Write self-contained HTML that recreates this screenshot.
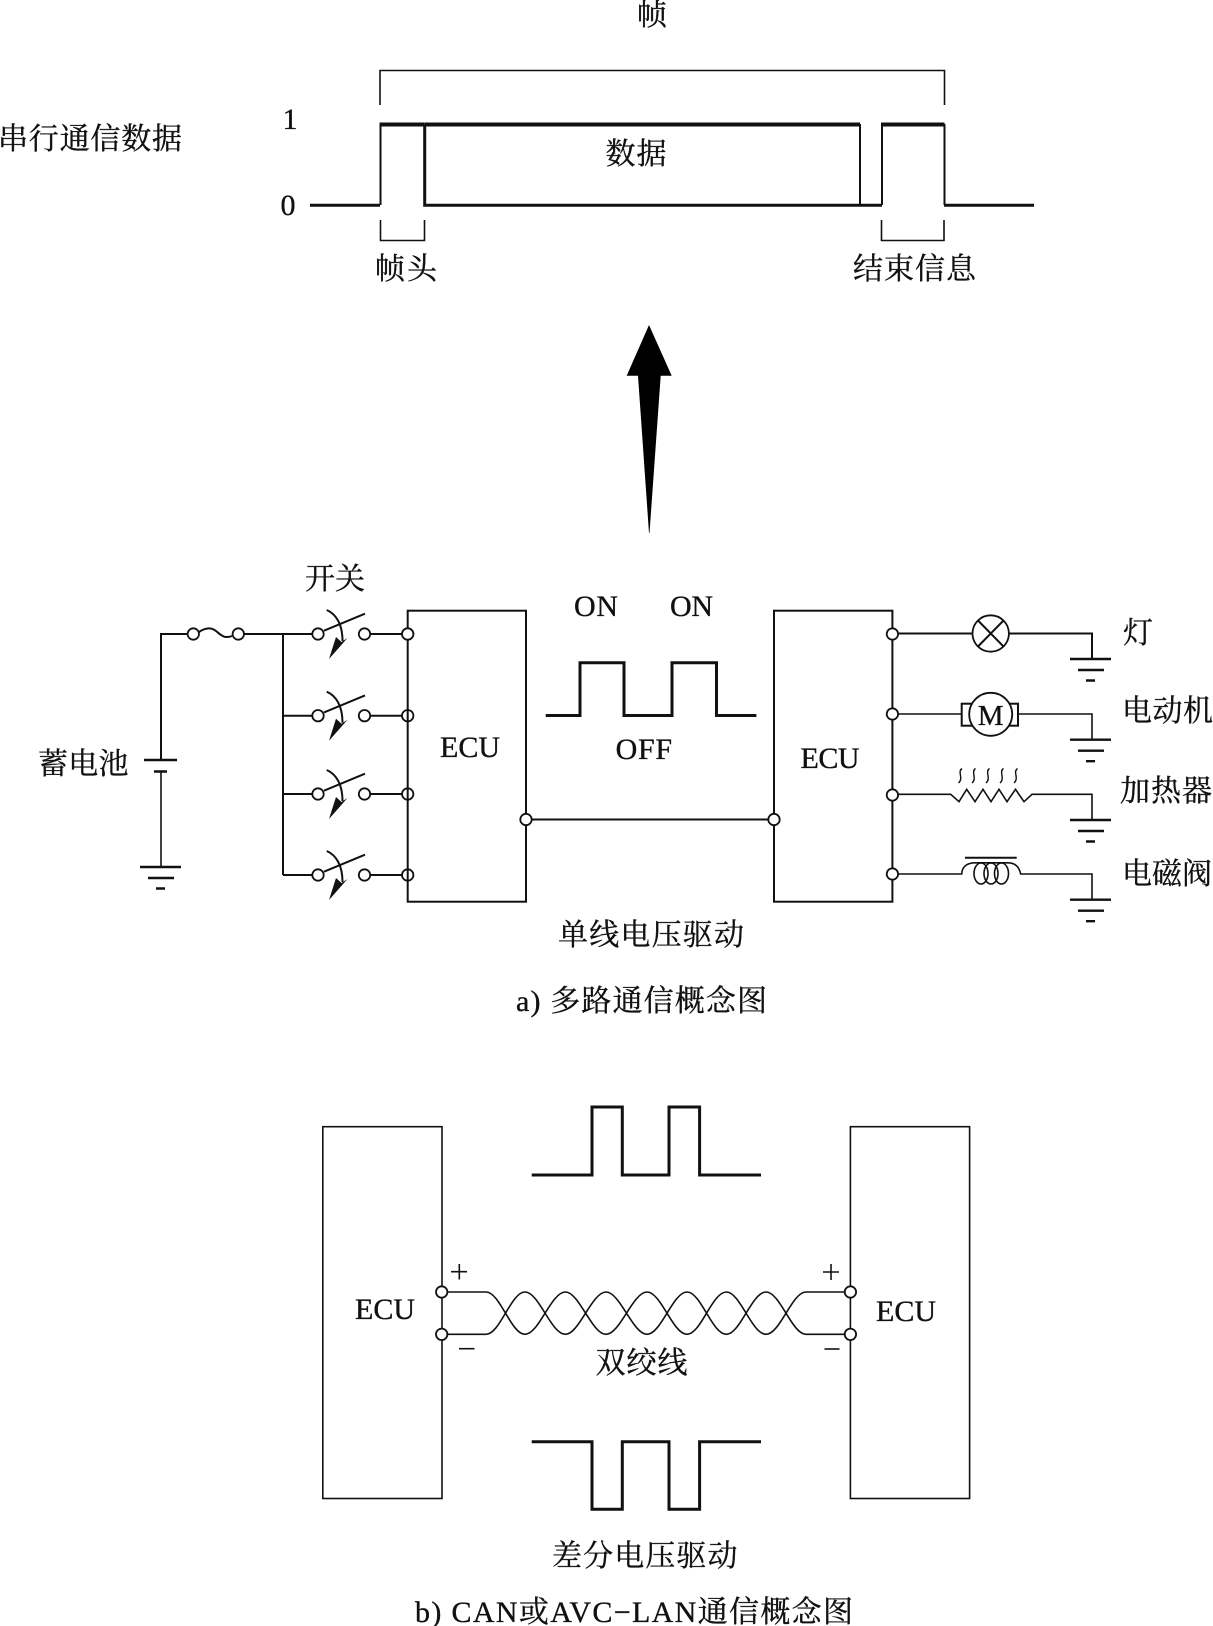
<!DOCTYPE html>
<html lang="zh">
<head>
<meta charset="utf-8">
<title>多路通信概念图</title>
<style>
html,body{margin:0;padding:0;background:#fff;width:1213px;height:1626px;overflow:hidden}
svg{display:block}
text{font-family:"Liberation Serif","Noto Serif CJK SC",serif;font-size:30px;fill:#111;stroke:#111;stroke-width:.35}
.t{fill:none;stroke:#111;stroke-width:1.6}
.m{fill:none;stroke:#111;stroke-width:2}
.k{fill:none;stroke:#111;stroke-width:3;stroke-linejoin:miter}
.c{fill:#fff;stroke:#111;stroke-width:1.8}
</style>
</head>
<body>
<svg xmlns="http://www.w3.org/2000/svg" width="1213" height="1626" viewBox="0 0 1213 1626">
<rect width="1213" height="1626" fill="#fff"/>
<defs>
  <g id="sw">
    <path class="m" d="M283 0H312M370 0H408"/>
    <circle class="c" cx="318" cy="0" r="5.7"/>
    <circle class="c" cx="364.5" cy="0" r="5.7"/>
    <circle class="c" cx="407.7" cy="0" r="5.7"/>
    <path class="m" d="M324 -3.3L365 -20.3"/>
    <path class="m" d="M326.7 -24C336 -20 342.5 -10 342.5 7"/>
    <polygon fill="#111" points="329,25 336,3 341.5,8 347.5,4"/>
  </g>
  <g id="gnd">
    <path stroke="#111" stroke-width="2.4" fill="none" d="M-21 0H20M-13 11H13M-5 21.5H4"/>
  </g>
</defs>

<!-- Top frame -->
<text x="652" y="25" text-anchor="middle">帧</text>
<path class="t" d="M380 105V70.5H944.5V105"/>
<text x="-2" y="149" textLength="184">串行通信数据</text>
<text x="290" y="129" text-anchor="middle">1</text>
<text x="288" y="215" text-anchor="middle">0</text>
<path class="k" d="M310 205.3H380"/>
<path class="m" d="M380.5 205V124"/>
<path class="k" d="M379.5 124.5H424.5" style="stroke-width:4"/>
<path class="k" d="M424.7 124V205.3H860"/>
<path class="k" d="M424.7 124.5H860" style="stroke-width:4"/>
<path class="m" d="M860 124V205"/>
<path class="k" d="M860 205.3H882"/>
<path class="m" d="M882 205V124"/>
<path class="k" d="M881 124.5H944.5" style="stroke-width:4"/>
<path class="m" d="M944.5 124V205"/>
<path class="k" d="M944 205.3H1034"/>
<text x="636" y="164" text-anchor="middle" textLength="61">数据</text>
<path class="t" d="M380.5 220V240.5H424.5V220"/>
<path class="t" d="M881.5 220V240.5H944V220"/>
<text x="375" y="279" textLength="62">帧头</text>
<text x="853" y="279" textLength="123">结束信息</text>

<!-- Big arrow -->
<polygon fill="#000" points="649,325 671.7,375.7 660.7,375.7 649.5,533 649,533 638,375.7 626.7,375.7"/>

<!-- Battery / fuse -->
<text x="305" y="589" textLength="60">开关</text>
<text x="38" y="774" textLength="90.5">蓄电池</text>
<path class="m" d="M161 760V634H187.5M244 634H283"/>
<circle class="c" cx="193.3" cy="634" r="5.7"/>
<circle class="c" cx="238.3" cy="634" r="5.7"/>
<path class="m" d="M199 632C205 628 211 627 216 631S224 639 232 636"/>
<path stroke="#111" stroke-width="2.4" fill="none" d="M144 760H177M154 771.5H167"/>
<path class="t" d="M161 771V867"/>
<use href="#gnd" x="161" y="867"/>
<path class="m" d="M283 634V875"/>

<!-- Switches -->
<use href="#sw" y="634"/>
<use href="#sw" y="715.7"/>
<use href="#sw" y="794"/>
<use href="#sw" y="875"/>

<!-- ECU boxes (a) -->
<rect class="m" x="407.7" y="610.7" width="118.3" height="291"/>
<text x="470" y="757" text-anchor="middle" textLength="60">ECU</text>
<rect class="m" x="774" y="610.7" width="118.4" height="291"/>
<text x="830" y="768" text-anchor="middle" textLength="59">ECU</text>
<path class="m" d="M526 819.5H774"/>
<circle class="c" cx="526" cy="819.5" r="5.7"/>
<circle class="c" cx="774" cy="819.5" r="5.7"/>
<circle class="c" cx="407.7" cy="634" r="5.7"/>

<!-- Pulse (a) -->
<text x="574" y="616" textLength="44">ON</text>
<text x="670" y="616" textLength="43">ON</text>
<path class="k" d="M545.7 715.5H580V662.7H624V715.5H672V662.7H716.5V715.5H756.4"/>
<text x="615.6" y="759" textLength="56.5">OFF</text>

<!-- Lamp -->
<path class="m" d="M892.4 633.5H972.5M1009 633.5H1092V659"/>
<circle class="c" cx="990.7" cy="633.5" r="18.2"/>
<path class="m" d="M978 620.5L1003.5 646.5M1003.5 620.5L978 646.5"/>
<use href="#gnd" x="1091" y="659"/>

<!-- Motor -->
<path class="t" d="M892.4 714H962M1018 714H1092V739.7"/>
<rect class="m" x="961.7" y="703.7" width="56.3" height="22"/>
<circle class="c" cx="990.7" cy="714.3" r="21.5"/>
<text x="990.7" y="725" text-anchor="middle" style="font-size:29px">M</text>
<use href="#gnd" x="1091" y="739.7"/>

<!-- Heater -->
<path class="t" d="M892.4 794.3H950.7L959 801.7 966.7 789.3 975 801.7 983 789.3 991 801.7 999 789.3 1007 801.7 1015.5 789.3 1024 801.7 1032 794.3H1092V820"/>
<g class="t" style="stroke-width:1.4">
  <path d="M962 768.5C957 772 964 778 958.5 783"/>
  <path d="M975.5 768.5C970.5 772 977.5 778 972 783"/>
  <path d="M989.5 768.5C984.5 772 991.5 778 986 783"/>
  <path d="M1003.5 768.5C998.5 772 1005.5 778 1000 783"/>
  <path d="M1017.5 768.5C1012.5 772 1019.5 778 1014 783"/>
</g>
<use href="#gnd" x="1091" y="820"/>

<!-- Solenoid -->
<path class="t" d="M892.4 874H961.7C962 866 968 862.8 975 862.8H1008C1014 862.8 1019 866 1020.7 874H1092V899.7"/>
<path stroke="#111" stroke-width="2" fill="none" d="M965 857.7H1016.7"/>
<g class="t">
  <ellipse cx="981" cy="873.5" rx="7" ry="10.5"/>
  <ellipse cx="991" cy="873.5" rx="7" ry="10.5"/>
  <ellipse cx="1001.5" cy="873.5" rx="7" ry="10.5"/>
</g>
<use href="#gnd" x="1091" y="899.7"/>

<circle class="c" cx="892.4" cy="634" r="5.7"/>
<circle class="c" cx="892.4" cy="714" r="5.7"/>
<circle class="c" cx="892.4" cy="795" r="5.7"/>
<circle class="c" cx="892.4" cy="874" r="5.7"/>

<text x="1123" y="643" textLength="29">灯</text>
<text x="1122" y="721" textLength="91">电动机</text>
<text x="1120" y="801" textLength="92">加热器</text>
<text x="1122" y="884" textLength="90">电磁阀</text>

<text x="558" y="945" textLength="186">单线电压驱动</text>
<text x="516" y="1011" textLength="251">a) 多路通信概念图</text>

<!-- b) -->
<rect class="t" x="322.8" y="1126.7" width="119.2" height="371.8"/>
<rect class="t" x="850.4" y="1126.7" width="119.2" height="371.8"/>
<text x="385" y="1319" text-anchor="middle" textLength="60">ECU</text>
<text x="906" y="1321" text-anchor="middle" textLength="60">ECU</text>
<path class="k" d="M531.7 1175H592V1107H622.3V1175H669V1107H699.6V1175H761"/>
<path class="k" d="M531.7 1441.8H592V1509.3H622.3V1441.8H669V1509.3H699.6V1441.8H761"/>

<path class="t" d="M451 1271.7H467M459.3 1264V1279.5"/>
<path class="t" d="M459 1348.7H474.5"/>
<path class="t" d="M823 1272H839M831 1264V1280"/>
<path class="t" d="M824.5 1349H839.5"/>

<path class="t" d="M441.7 1292H486C500 1292 511 1334.3 525 1334.3C539 1334.3 551 1292 565.5 1292C579 1292 592 1334.3 606 1334.3C620 1334.3 633 1292 647 1292C661 1292 673 1334.3 687 1334.3C701 1334.3 712 1292 726.5 1292C740 1292 752 1334.3 766 1334.3C780 1334.3 792 1292 806 1292H850"/>
<path class="t" d="M441.7 1334.3H486C500 1334.3 511 1292 525 1292C539 1292 551 1334.3 565.5 1334.3C579 1334.3 592 1292 606 1292C620 1292 633 1334.3 647 1334.3C661 1334.3 673 1292 687 1292C701 1292 712 1334.3 726.5 1334.3C740 1334.3 752 1292 766 1292C780 1292 792 1334.3 806 1334.3H850"/>
<circle class="c" cx="441.7" cy="1292" r="5.7"/>
<circle class="c" cx="441.7" cy="1334.3" r="5.7"/>
<circle class="c" cx="850.4" cy="1292" r="5.7"/>
<circle class="c" cx="850.4" cy="1334.3" r="5.7"/>

<text x="595.5" y="1373" textLength="92">双绞线</text>
<text x="552" y="1566" textLength="185.5">差分电压驱动</text>
<text x="415" y="1622" textLength="438">b) CAN或AVC−LAN通信概念图</text>
</svg>
</body>
</html>
